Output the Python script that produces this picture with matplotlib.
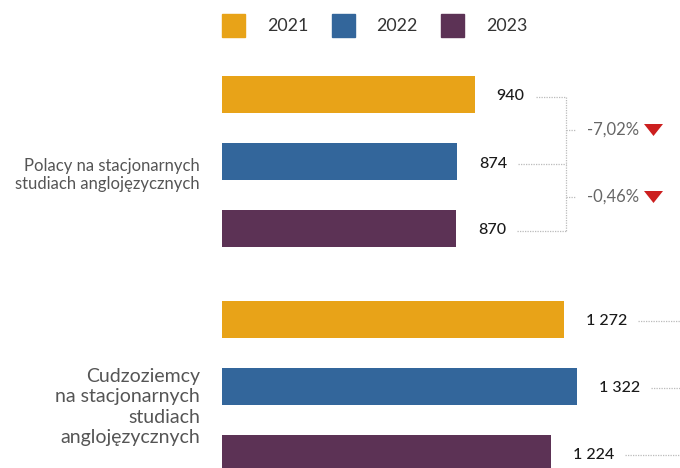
import matplotlib.pyplot as plt

# data
years = ["2021", "2022", "2023"]
groups = ["Polacy na stacjonarnych\nstudiach anglojęzycznych",
          "Cudzoziemcy\nna stacjonarnych\nstudiach\nanglojęzycznych"]
polacy = [940, 874, 870]
cudzoziemcy = [1272, 1322, 1224]
colors = ["#E8A318", "#33669B", "#5C3255"]

plt.rcParams['font.family'] = ['Lato', 'DejaVu Sans']

W, H = 680, 468
fig = plt.figure(figsize=(W / 100, H / 100), dpi=100)
ax = fig.add_axes([0, 0, 1, 1])
ax.axis('off')

# axis in "pixel-like" units: x0 at px 222, 0.2687 px per unit
x0_px, scale = 222, 0.2687
ax.set_xlim(-x0_px / scale, (W - x0_px) / scale)
ax.set_ylim(H, 0)


def px2x(px):
    return (px - x0_px) / scale


def fmt(v):
    return f"{v:,}".replace(",", " ")


group_start = [94.5, 319]
step = 67
bar_h = 37

label_texts = []
for gi, vals in enumerate([polacy, cudzoziemcy]):
    ys = [group_start[gi] + i * step for i in range(len(vals))]
    for i, (v, y) in enumerate(zip(vals, ys)):
        ax.barh(y, v, height=bar_h, color=colors[i])
        t = ax.annotate(fmt(v), (v, y + 2), xytext=(22, 0), textcoords='offset pixels',
                        ha='left', va='center', fontsize=11.5, color='#1a1a1a',
                        fontweight='medium')
        label_texts.append((gi, t, y))

# category labels
ax.text(px2x(200), 175, groups[0], ha='right', va='center', fontsize=12,
        color='#555555', linespacing=1.15)
ax.text(px2x(200), 407, groups[1], ha='right', va='center', fontsize=14,
        color='#555555', linespacing=1.22, multialignment='right')

# legend
for i, yr in enumerate(years):
    sx = 222 + i * 109.5
    ax.add_patch(plt.Rectangle((px2x(sx), 14), 23 / scale, 23, color=colors[i],
                               clip_on=False))
    ax.text(px2x(sx + 45), 26, yr, ha='left', va='center', fontsize=12.8, color='#333333')

# leader lines
fig.canvas.draw()
renderer = fig.canvas.get_renderer()
inv = ax.transData.inverted()
dot = dict(color='#BBBBBB', linestyle=(0, (1, 1)), linewidth=0.9)
bracket_px = 566
for gi, t, y in label_texts:
    bb = t.get_window_extent(renderer)
    xs = inv.transform((bb.x1 + 11, 0))[0]
    end = px2x(bracket_px) if gi == 0 else px2x(W)
    ax.plot([xs, end], [y + 2, y + 2], **dot)

ys1 = [group_start[0] + i * step + 2 for i in range(3)]
ax.plot([px2x(bracket_px)] * 2, [ys1[0], ys1[-1]], **dot)

for i in range(2):
    change = (polacy[i + 1] - polacy[i]) / polacy[i] * 100
    ym = (ys1[i] + ys1[i + 1]) / 2
    ax.plot([px2x(bracket_px), px2x(575)], [ym, ym], **dot)
    ax.text(px2x(587), ym, f"{change:.2f}%".replace(".", ","), ha='left', va='center',
            fontsize=12, color='#666666')
    tri = [(px2x(644), ym - 6), (px2x(663), ym - 6), (px2x(653.5), ym + 6)]
    ax.add_patch(plt.Polygon(tri, closed=True, color='#CC1F1F', linewidth=0,
                             clip_on=False))

fig.savefig("out.png", dpi=100)
